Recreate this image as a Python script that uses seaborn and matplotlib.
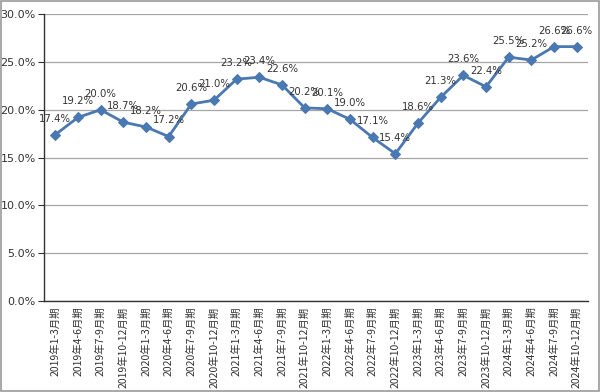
import pandas as pd
import matplotlib.pyplot as plt
import seaborn as sns
from matplotlib.patches import Rectangle

periods = ['1-3月期', '4-6月期', '7-9月期', '10-12月期']
years = [2019, 2020, 2021, 2022, 2023, 2024]
labels = [f'{y}年{p}' for y in years for p in periods]
rates = [17.4, 19.2, 20.0, 18.7, 18.2, 17.2, 20.6, 21.0, 23.2, 23.4, 22.6, 20.2,
         20.1, 19.0, 17.1, 15.4, 18.6, 21.3, 23.6, 22.4, 25.5, 25.2, 26.6, 26.6]

df = pd.DataFrame({'idx': range(len(labels)), 'label': labels, 'rate': rates})

sns.set_style('white')
plt.rcParams['font.family'] = ['DejaVu Sans', 'Noto Sans CJK JP']

fig = plt.figure(figsize=(6, 3.92), dpi=100)
ax = fig.add_axes([0.0733, 0.232, 0.9067, 0.732])

line_color = '#4a78b0'
sns.lineplot(data=df, x='idx', y='rate', ax=ax, color=line_color, linewidth=2.0,
             marker='D', markersize=5, markeredgecolor=line_color)

# data labels, overlapping like the original
for i, v in zip(df['idx'], df['rate']):
    ax.annotate(f'{v:.1f}%', (i, v), xytext=(0, 8), textcoords='offset points',
                ha='center', va='bottom', fontsize=7.3, color='#333333')

ax.set_xlim(-0.5, len(labels) - 0.5)
ax.set_ylim(0, 30)
ax.set_yticks(range(0, 31, 5))
ax.set_yticklabels([f'{t:.1f}%' for t in range(0, 31, 5)], fontsize=8, color='#333333')
ax.yaxis.grid(True, color='#a6a6a6', linewidth=0.9)
ax.set_axisbelow(True)

ax.set_xticks(df['idx'])
ax.set_xticklabels(labels, rotation=90, fontsize=7.5, color='#333333',
                   family=['Noto Sans CJK JP'])
ax.tick_params(axis='x', length=0, pad=4)
ax.set_xticks([k + 0.5 for k in range(-1, len(labels))], minor=True)
ax.tick_params(axis='x', which='minor', length=4, color='#333333', direction='out')
ax.tick_params(axis='y', length=4, color='#333333', direction='out', left=True, pad=2)

ax.set_xlabel('')
ax.set_ylabel('')
for side in ['top', 'right']:
    ax.spines[side].set_visible(False)
for side in ['left', 'bottom']:
    ax.spines[side].set_color('#333333')
    ax.spines[side].set_linewidth(1.0)

fig.patches.append(Rectangle((0.002, 0.003), 0.996, 0.994, transform=fig.transFigure,
                             fill=False, edgecolor='#999999', linewidth=1.2))

fig.savefig('out.png', dpi=100)
